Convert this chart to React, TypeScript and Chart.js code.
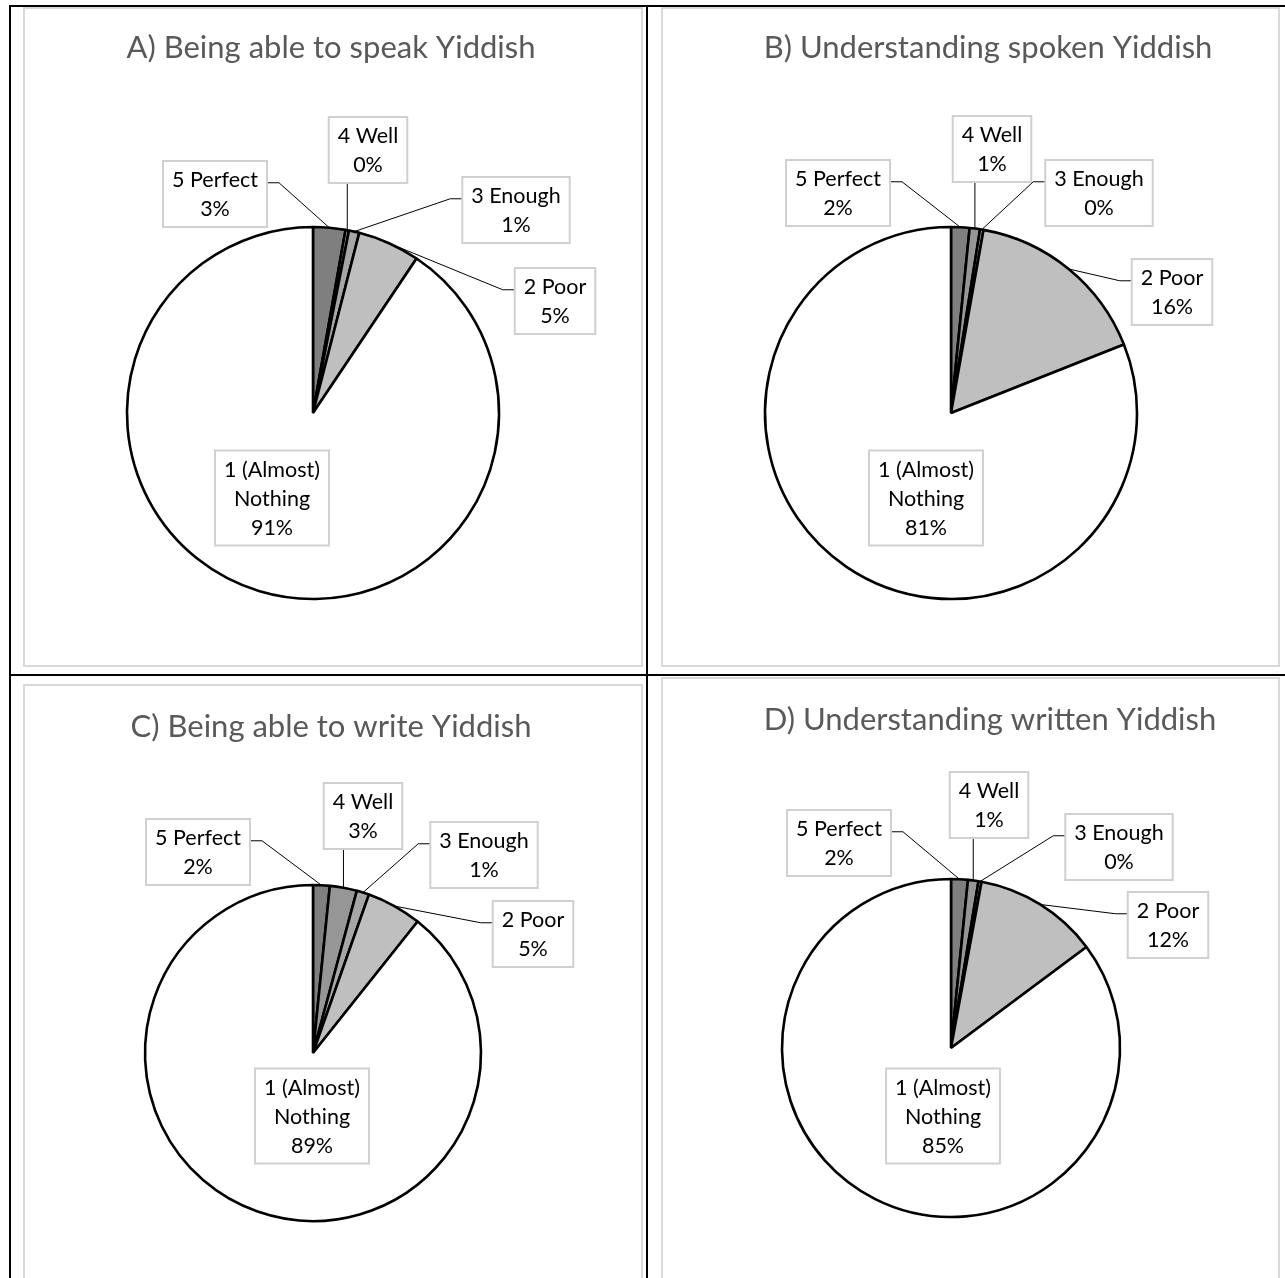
import React, { useEffect, useRef } from 'react';
import { Chart, registerables } from 'chart.js';

Chart.register(...registerables);

// ---------- data ----------
const CATEGORIES = ['5 Perfect', '4 Well', '3 Enough', '2 Poor', '1 (Almost) Nothing'];
const TITLES = [
  'A) Being able to speak Yiddish',
  'B) Understanding spoken Yiddish',
  'C) Being able to write Yiddish',
  'D) Understanding written Yiddish',
];
const SPEAK = [2.8, 0.3, 0.9, 5.4, 90.6];
const UNDERSTAND_SPOKEN = [1.6, 0.9, 0.3, 16.2, 81.0];
const WRITE = [1.6, 2.6, 1.2, 5.3, 89.3];
const UNDERSTAND_WRITTEN = [1.6, 1.0, 0.3, 11.9, 85.2];
const SLICE_COLORS = ['#7f7f7f', '#969696', '#a6a6a6', '#bfbfbf', '#ffffff'];

// ---------- layout (page pixels) ----------
type Panel = {
  title: string;
  values: number[];
  box: { x: number; y: number; w: number; h: number };
  center: { x: number; y: number };
  r: number;
  titleX: number;
  titleBaseline: number;
  offsets: number[][];
};

const PANELS: Panel[] = [
  {
    title: TITLES[0], values: SPEAK,
    box: { x: 23, y: 7, w: 620, h: 660 }, center: { x: 313, y: 413 }, r: 186,
    titleX: 331, titleBaseline: 58,
    offsets: [[-98, -219], [55, -263], [203, -203], [242, -112], [-41, 85]],
  },
  {
    title: TITLES[1], values: UNDERSTAND_SPOKEN,
    box: { x: 661, y: 7, w: 619, h: 660 }, center: { x: 951, y: 413 }, r: 186,
    titleX: 988, titleBaseline: 58,
    offsets: [[-113, -220], [41, -264], [148, -220], [221, -121], [-25, 85]],
  },
  {
    title: TITLES[2], values: WRITE,
    box: { x: 23, y: 684, w: 620, h: 640 }, center: { x: 313, y: 1053 }, r: 168,
    titleX: 331, titleBaseline: 737,
    offsets: [[-115, -201], [50, -237], [171, -198], [220, -119], [-1, 63]],
  },
  {
    title: TITLES[3], values: UNDERSTAND_WRITTEN,
    box: { x: 661, y: 677, w: 619, h: 640 }, center: { x: 951, y: 1048 }, r: 169,
    titleX: 990, titleBaseline: 730,
    offsets: [[-112, -205], [38, -243], [168, -201], [217, -123], [-8, 68]],
  },
];

const FONT = 'Lato, "Open Sans", sans-serif';
const LABEL_SIZE = 21.5;
const LINE_H = 29;
const PAD_X = 9;
const PAD_Y = 4;
const TITLE_SIZE = 31;
const BORDER = 2;

function wrapText(ctx: CanvasRenderingContext2D, text: string, maxW: number): string[] {
  const words = text.split(' ');
  const lines: string[] = [];
  let cur = '';
  for (const w of words) {
    const t = cur ? cur + ' ' + w : w;
    if (cur && ctx.measureText(t).width > maxW) {
      lines.push(cur);
      cur = w;
    } else cur = t;
  }
  if (cur) lines.push(cur);
  return lines;
}

function makeTitlePlugin(text: string, x: number, y: number) {
  return {
    id: 'panelTitle',
    afterDraw(chart: any) {
      const ctx: CanvasRenderingContext2D = chart.ctx;
      ctx.save();
      ctx.font = `${TITLE_SIZE}px ${FONT}`;
      ctx.fillStyle = '#595959';
      ctx.textAlign = 'center';
      ctx.textBaseline = 'alphabetic';
      ctx.fillText(text, x, y);
      ctx.restore();
    },
  };
}

function makeCalloutPlugin(offsets: number[][]) {
  return {
    id: 'callouts',
    afterDatasetsDraw(chart: any) {
      const ctx: CanvasRenderingContext2D = chart.ctx;
      const meta = chart.getDatasetMeta(0);
      const values = chart.data.datasets[0].data as number[];
      const labels = chart.data.labels as string[];
      const total = values.reduce((a, b) => a + b, 0);
      ctx.save();
      ctx.font = `${LABEL_SIZE}px ${FONT}`;
      meta.data.forEach((el: any, i: number) => {
        const p = el.getProps(['x', 'y', 'startAngle', 'endAngle', 'outerRadius'], true);
        const mid = (p.startAngle + p.endAngle) / 2;
        const ax = p.x + Math.cos(mid) * p.outerRadius;
        const ay = p.y + Math.sin(mid) * p.outerRadius;
        const lines = [...wrapText(ctx, labels[i], 120), Math.round((values[i] / total) * 100) + '%'];
        const tw = Math.max(...lines.map((l) => ctx.measureText(l).width));
        const w = tw + 2 * PAD_X;
        const h = lines.length * LINE_H + 2 * PAD_Y;
        const off = offsets[i];
        const cx = p.x + off[0];
        const cy = p.y + off[1];
        const bx = cx - w / 2;
        const by = cy - h / 2;
        const outside = Math.hypot(off[0], off[1]) > p.outerRadius;
        if (outside) {
          ctx.strokeStyle = '#000';
          ctx.lineWidth = 1;
          ctx.beginPath();
          if (ax >= bx && ax <= bx + w) {
            const ey = ay > cy ? by + h : by;
            ctx.moveTo(ax, ey);
            ctx.lineTo(ax, ay);
          } else {
            const left = ax < bx;
            const sx = left ? bx : bx + w;
            const sy = by + h * 0.33;
            ctx.moveTo(sx, sy);
            ctx.lineTo(sx + (left ? -12 : 12), sy);
            ctx.lineTo(ax, ay);
          }
          ctx.stroke();
        }
        ctx.fillStyle = '#ffffff';
        ctx.fillRect(bx, by, w, h);
        ctx.strokeStyle = '#d0d0d0';
        ctx.lineWidth = 2;
        ctx.strokeRect(bx, by, w, h);
        ctx.fillStyle = '#000000';
        ctx.textAlign = 'center';
        ctx.textBaseline = 'middle';
        lines.forEach((l, k) => ctx.fillText(l, cx, by + PAD_Y + LINE_H * (k + 0.5) + 1));
      });
      ctx.restore();
    },
  };
}

function PiePanel({ panel }: { panel: Panel }) {
  const ref = useRef<HTMLCanvasElement | null>(null);
  const W = panel.box.w - 2 * BORDER;
  const H = panel.box.h - 2 * BORDER;
  useEffect(() => {
    if (!ref.current) return;
    const ox = panel.box.x + BORDER;
    const oy = panel.box.y + BORDER;
    const cx = panel.center.x - ox;
    const cy = panel.center.y - oy;
    const half = panel.r + 2;
    const chart = new Chart(ref.current, {
      type: 'pie',
      data: {
        labels: CATEGORIES,
        datasets: [
          {
            data: panel.values,
            backgroundColor: SLICE_COLORS,
            borderColor: '#000000',
            borderWidth: 2.6,
            radius: panel.r,
          } as any,
        ],
      },
      options: {
        responsive: false,
        animation: false,
        events: [],
        layout: {
          padding: {
            left: cx - half,
            right: W - cx - half,
            top: cy - half,
            bottom: H - cy - half,
          },
        },
        plugins: {
          legend: { display: false },
          tooltip: { enabled: false },
          title: { display: false },
        },
      },
      plugins: [makeCalloutPlugin(panel.offsets), makeTitlePlugin(panel.title, panel.titleX - ox, panel.titleBaseline - oy)],
    });
    return () => chart.destroy();
  }, [panel, W, H]);
  return (
    <div
      style={{
        position: 'absolute',
        left: panel.box.x,
        top: panel.box.y,
        width: panel.box.w,
        height: panel.box.h,
        border: `${BORDER}px solid #d9d9d9`,
        boxSizing: 'border-box',
        background: '#fff',
      }}
    >
      <canvas ref={ref} width={W} height={H} style={{ width: W, height: H, display: 'block' }} />
    </div>
  );
}

function Line({ x, y, w, h }: { x: number; y: number; w: number; h: number }) {
  return <div style={{ position: 'absolute', left: x, top: y, width: w, height: h, background: '#000' }} />;
}

export default function App() {
  return (
    <div
      style={{
        position: 'absolute',
        left: 0,
        top: 0,
        width: 1285,
        height: 1278,
        overflow: 'hidden',
        background: '#fff',
      }}
    >
      {PANELS.map((p, i) => (
        <PiePanel key={i} panel={p} />
      ))}
      <Line x={9} y={5} w={1276} h={2} />
      <Line x={9} y={5} w={2} h={1273} />
      <Line x={646} y={5} w={2} h={1273} />
      <Line x={9} y={674} w={1276} h={2} />
    </div>
  );
}
